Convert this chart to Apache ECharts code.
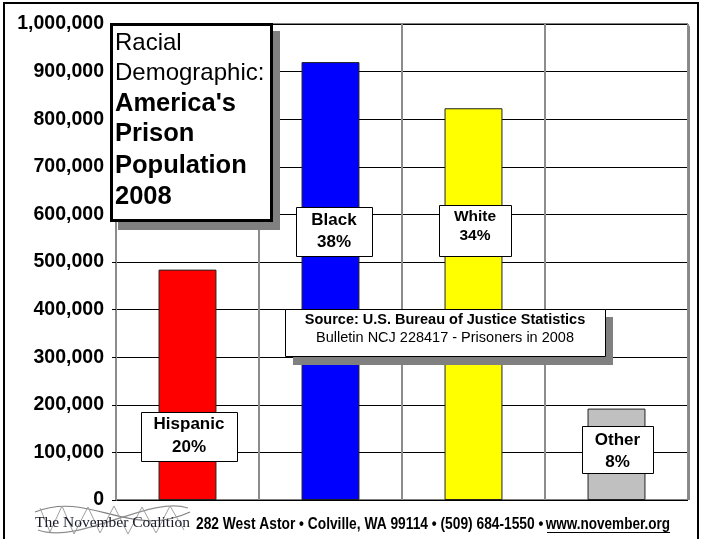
<!DOCTYPE html>
<html>
<head>
<meta charset="utf-8">
<script src="https://cdn.jsdelivr.net/npm/echarts@6/dist/echarts.min.js"></script>
<style>
html,body{margin:0;padding:0;background:#fff;}
#chart{width:702px;height:539px;}
</style>
</head>
<body>
<div id="chart"></div>
<script>
const categories = ['Hispanic', 'Black', 'White', 'Other'];
const prisoners = [484000, 920000, 823000, 192000];
const shares = ['20%', '38%', '34%', '8%'];
const yMin = 0, yMax = 1000000, yStep = 100000;
const titleLines = ['Racial', 'Demographic:', "America's", 'Prison', 'Population', '2008'];
const sourceLines = ['Source: U.S. Bureau of Justice Statistics', 'Bulletin NCJ 228417 - Prisoners in 2008'];
const footerText = '282 West Astor \u2022 Colville, WA 99114 \u2022 (509) 684-1550 \u2022 ';
const footerUrl = 'www.november.org';
const logoText = 'The November Coalition';

const barColors = ['#ff0000', '#0000ff', '#ffff00', '#c0c0c0'];
const FONT = '"Liberation Sans", Arial, sans-serif';

function fmt(v) { return String(v).replace(/\B(?=(\d{3})+(?!\d))/g, ','); }

const chart = echarts.init(document.getElementById('chart'));

function labelBox(x, y, w, h, name, share, nameSize, nameY, shareY) {
  const cx = x + w / 2;
  return [
    { type: 'rect', z: 100, shape: { x: x + 0.5, y: y + 0.5, width: w, height: h },
      style: { fill: '#fff', stroke: '#000', lineWidth: 1 } },
    { type: 'text', z: 101, style: { text: name, x: cx, y: nameY, align: 'center', verticalAlign: 'middle',
      fontFamily: FONT, fontWeight: 'bold', fontSize: nameSize, fill: '#000' } },
    { type: 'text', z: 101, style: { text: share, x: cx, y: shareY, align: 'center', verticalAlign: 'middle',
      fontFamily: FONT, fontWeight: 'bold', fontSize: nameSize, fill: '#000' } }
  ];
}

const titleY = [43, 73, 104, 134, 166, 197];
const graphics = [
  // outer frame
  { type: 'rect', z: 0, shape: { x: 4, y: 3, width: 694, height: 545 },
    style: { fill: 'none', stroke: '#000', lineWidth: 2 } },
  // plot right shadow
  { type: 'rect', z: 1, shape: { x: 688, y: 26, width: 2, height: 474 }, style: { fill: '#888' } },
  // title box
  { type: 'rect', z: 100, shape: { x: 118, y: 31, width: 162, height: 199 }, style: { fill: '#808080' } },
  { type: 'rect', z: 101, shape: { x: 111.5, y: 24.5, width: 160, height: 196 },
    style: { fill: '#fff', stroke: '#000', lineWidth: 3 } },
  // source box
  { type: 'rect', z: 100, shape: { x: 293, y: 317, width: 320, height: 48 }, style: { fill: '#808080' } },
  { type: 'rect', z: 101, shape: { x: 285.5, y: 309.5, width: 320, height: 47 },
    style: { fill: '#fff', stroke: '#000', lineWidth: 1 } },
  { type: 'text', z: 102, style: { text: sourceLines[0], x: 445, y: 320, align: 'center', verticalAlign: 'middle',
    fontFamily: FONT, fontWeight: 'bold', fontSize: 14.5, fill: '#000' } },
  { type: 'text', z: 102, style: { text: sourceLines[1], x: 445, y: 338, align: 'center', verticalAlign: 'middle',
    fontFamily: FONT, fontSize: 14.5, fill: '#000' } },
  // logo scribble
  { type: 'bezierCurve', z: 49, shape: { x1: 35, y1: 512, x2: 190, y2: 512, cpx1: 90, cpy1: 490, cpx2: 130, cpy2: 540 },
    style: { stroke: '#808080', lineWidth: 1.2, fill: 'none' } },
  { type: 'bezierCurve', z: 49, shape: { x1: 38, y1: 530, x2: 188, y2: 508, cpx1: 80, cpy1: 545, cpx2: 150, cpy2: 495 },
    style: { stroke: '#909090', lineWidth: 1.2, fill: 'none' } },
  { type: 'polyline', z: 49, shape: { points: [[40,508],[50,532],[62,506],[74,534],[88,507],[100,533],[114,506],[128,534],[142,507],[156,533],[170,506],[184,530]] },
    style: { stroke: '#a0a0a0', lineWidth: 1, fill: 'none' } },
  { type: 'text', z: 50, style: { text: logoText, x: 35, y: 523, align: 'left', verticalAlign: 'middle',
    fontFamily: '"Liberation Serif", "Times New Roman", serif', fontSize: 15.5, fill: '#1a1a2a' } },
  { type: 'text', z: 50, x: 196, y: 524, scaleX: 0.835, style: { text: footerText, x: 0, y: 0, align: 'left', verticalAlign: 'middle',
    fontFamily: FONT, fontWeight: 'bold', fontSize: 16.5, fill: '#000' } },
  { type: 'text', z: 50, x: 670, y: 524, scaleX: 0.82, style: { text: footerUrl, x: 0, y: 0, align: 'right', verticalAlign: 'middle',
    fontFamily: FONT, fontWeight: 'bold', fontSize: 16.5, fill: '#000' } },
  { type: 'rect', z: 50, shape: { x: 547, y: 532, width: 123, height: 1 }, style: { fill: '#000' } }
];
titleLines.forEach(function (t, i) {
  graphics.push({ type: 'text', z: 102, style: { text: t, x: 115, y: titleY[i], align: 'left', verticalAlign: 'middle',
    fontFamily: FONT, fontWeight: i < 2 ? 'normal' : 'bold', fontSize: i < 2 ? 24 : 25.5, fill: '#000' } });
});
[].push.apply(graphics, labelBox(141, 412, 96, 49, categories[0], shares[0], 17, 424, 447));
[].push.apply(graphics, labelBox(296, 207, 76, 49, categories[1], shares[1], 17, 220, 242));
[].push.apply(graphics, labelBox(439, 205, 72, 51, categories[2], shares[2], 15.5, 217, 236));
[].push.apply(graphics, labelBox(582, 426, 71, 47, categories[3], shares[3], 17, 440, 462));

chart.setOption({
  animation: false,
  backgroundColor: '#fff',
  grid: { left: 116, right: 14, top: 24, bottom: 39, show: true, borderColor: '#000', borderWidth: 1 },
  xAxis: {
    type: 'category', data: categories,
    axisLabel: { show: false }, axisTick: { show: false },
    axisLine: { show: false },
    splitLine: { show: true, lineStyle: { color: '#8c8c8c', width: 2 } }
  },
  yAxis: {
    type: 'value', min: yMin, max: yMax, interval: yStep,
    axisLine: { show: true, lineStyle: { color: '#8c8c8c', width: 2 } },
    axisTick: { show: true, length: 4, lineStyle: { color: '#000' } },
    axisLabel: { formatter: fmt, fontFamily: FONT, fontWeight: 'bold', fontSize: 19.5, color: '#000', margin: 12 },
    splitLine: { show: true, lineStyle: { color: '#000', width: 1 } }
  },
  series: [{
    type: 'bar', barWidth: '40.5%',
    data: prisoners.map(function (v, i) {
      return { value: v, itemStyle: { color: barColors[i], borderColor: '#222', borderWidth: 1 } };
    })
  }],
  graphic: graphics
});
</script>
</body>
</html>
